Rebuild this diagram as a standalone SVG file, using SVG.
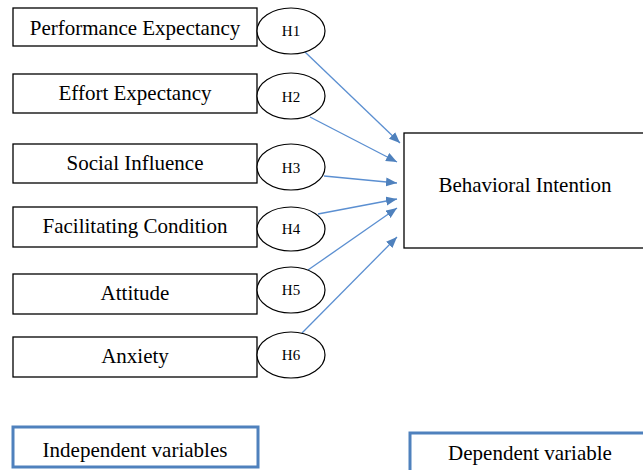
<svg xmlns="http://www.w3.org/2000/svg" width="643" height="470" viewBox="0 0 643 470">
<style>
.box{fill:#fff;stroke:#000;stroke-width:1.3}
.ell{fill:#fff;stroke:#000;stroke-width:1.2}
.leg{fill:#fff;stroke:#4f81bd;stroke-width:3}
.t{font-family:'Liberation Serif','DejaVu Serif',serif;font-size:21px;fill:#000;text-anchor:middle}
.h{font-family:'Liberation Serif','DejaVu Serif',serif;font-size:15px;fill:#000;text-anchor:middle}
.c{stroke:#5b8fd1;stroke-width:1.3;fill:none}
</style>
<defs>
<marker id="ah" markerUnits="userSpaceOnUse" markerWidth="12" markerHeight="10" refX="11" refY="4.5" orient="auto">
<path d="M0,0 L11,4.5 L0,9 z" fill="#4f81bd"/>
</marker>
</defs>
<rect width="643" height="470" fill="#fff"/>
<g id="connectors">
<line class="c" x1="305" y1="52" x2="400" y2="143" marker-end="url(#ah)"/>
<line class="c" x1="310" y1="117" x2="397" y2="162" marker-end="url(#ah)"/>
<line class="c" x1="324" y1="176" x2="397" y2="183" marker-end="url(#ah)"/>
<line class="c" x1="318" y1="214" x2="397" y2="199" marker-end="url(#ah)"/>
<line class="c" x1="308" y1="270" x2="397" y2="208" marker-end="url(#ah)"/>
<line class="c" x1="302" y1="333" x2="397" y2="237" marker-end="url(#ah)"/>
</g>
<g id="pe"><rect class="box" x="13" y="8" width="244" height="38"/><text class="t" x="135" y="35">Performance Expectancy</text></g>
<g id="ee"><rect class="box" x="13" y="74" width="244" height="39"/><text class="t" x="135" y="100">Effort Expectancy</text></g>
<g id="si"><rect class="box" x="13" y="144" width="244" height="39"/><text class="t" x="135" y="170">Social Influence</text></g>
<g id="fc"><rect class="box" x="13" y="207" width="244" height="40"/><text class="t" x="135" y="233">Facilitating Condition</text></g>
<g id="at"><rect class="box" x="13" y="274" width="244" height="40"/><text class="t" x="135" y="300">Attitude</text></g>
<g id="ax"><rect class="box" x="13" y="337" width="244" height="40"/><text class="t" x="135" y="363">Anxiety</text></g>
<g id="h1"><ellipse class="ell" cx="291" cy="31" rx="34" ry="23"/><text class="h" x="291" y="36">H1</text></g>
<g id="h2"><ellipse class="ell" cx="291" cy="96" rx="34" ry="23"/><text class="h" x="291" y="102">H2</text></g>
<g id="h3"><ellipse class="ell" cx="291" cy="167" rx="34" ry="23"/><text class="h" x="291" y="173">H3</text></g>
<g id="h4"><ellipse class="ell" cx="291" cy="229" rx="34" ry="22"/><text class="h" x="291" y="234">H4</text></g>
<g id="h5"><ellipse class="ell" cx="291" cy="290" rx="34" ry="23"/><text class="h" x="291" y="295">H5</text></g>
<g id="h6"><ellipse class="ell" cx="291" cy="355" rx="34" ry="23"/><text class="h" x="291" y="360">H6</text></g>
<g id="bi"><rect class="box" x="404" y="133" width="250" height="115"/><text class="t" x="525" y="192">Behavioral Intention</text></g>
<g id="indep"><rect class="leg" x="13" y="427" width="245" height="40"/><text class="t" x="135" y="457">Independent variables</text></g>
<g id="dep"><rect class="leg" x="410" y="433" width="250" height="50"/><text class="t" x="530" y="460">Dependent variable</text></g>
</svg>
